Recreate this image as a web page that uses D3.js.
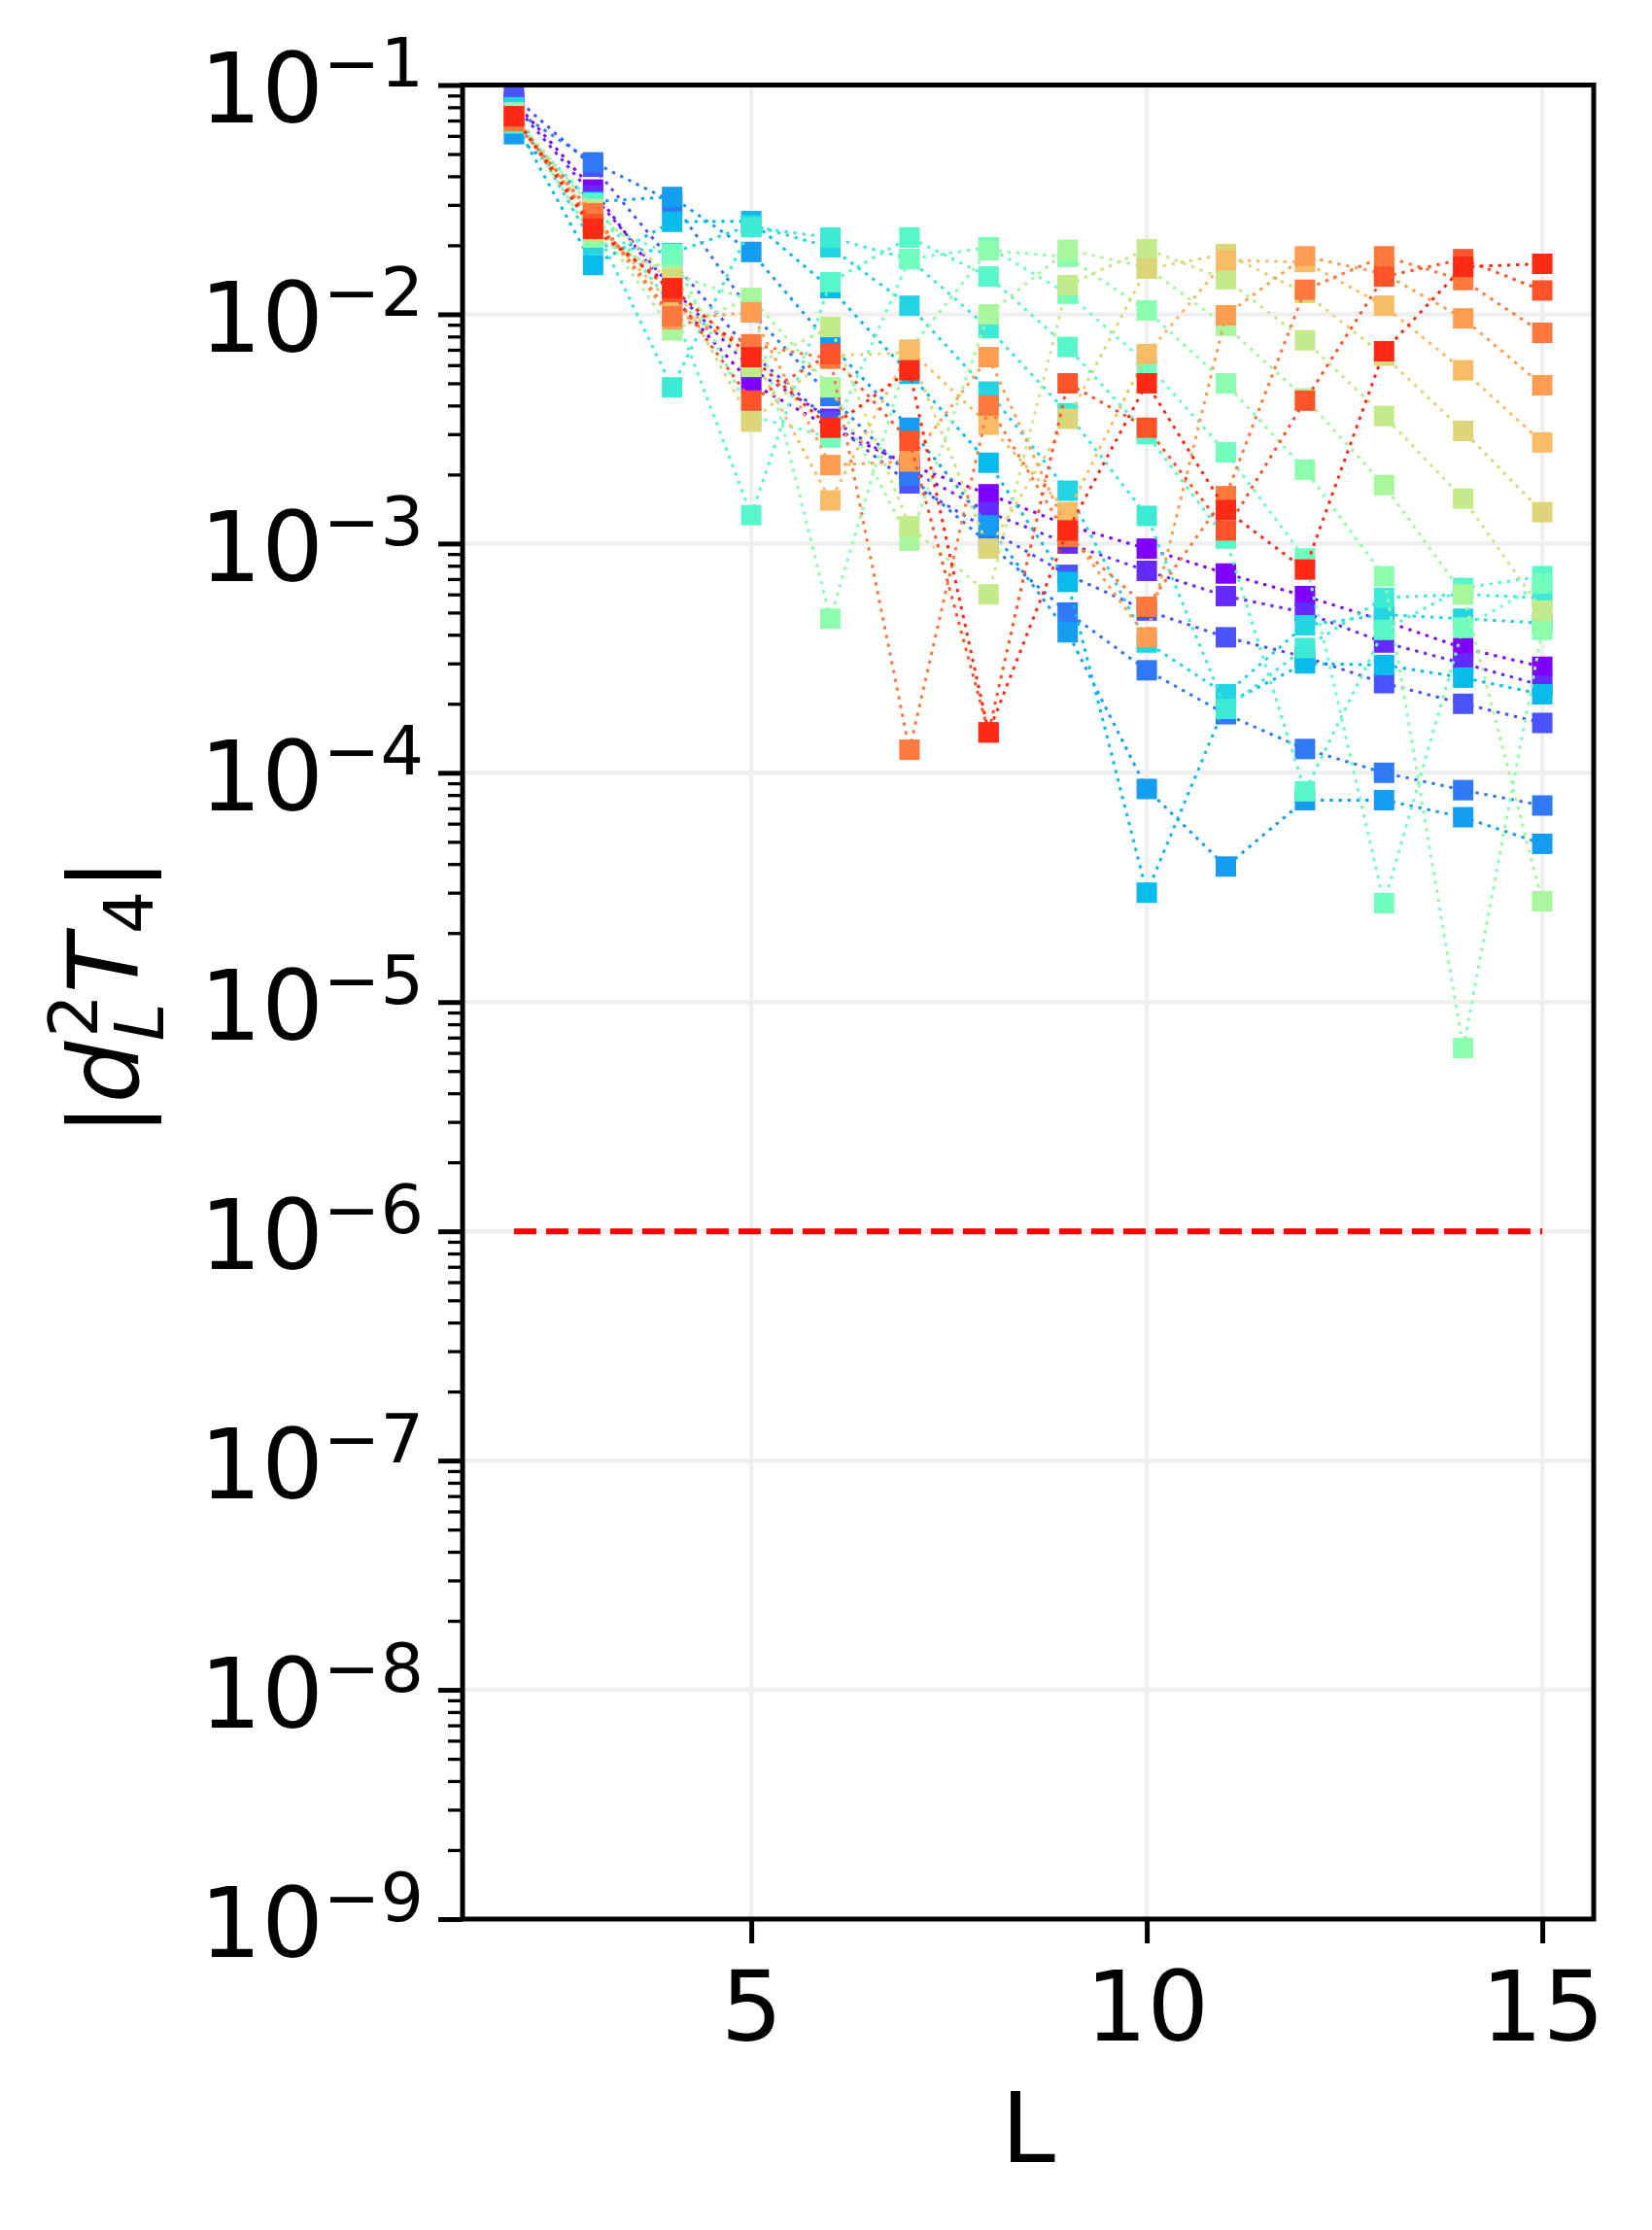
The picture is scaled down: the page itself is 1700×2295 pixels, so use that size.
<!DOCTYPE html>
<html>
<head>
<meta charset="utf-8">
<script src="https://cdn.jsdelivr.net/npm/d3@7"></script>
<style>
  body { margin: 0; background: #fff; }
  svg { display: block; }
</style>
</head>
<body>
<svg id="chart" width="1700" height="2295"></svg>
<script>
// L values on the x axis
const Ls = [2, 3, 4, 5, 6, 7, 8, 9, 10, 11, 12, 13, 14, 15];

// |d_L^2 T_4| for each curve, one row per curve (L = 2..15)
const seriesValues = [
  [0.085, 0.035, 0.012, 0.005, 0.0032, 0.0022, 0.00164, 0.0012, 0.00095, 0.00074, 0.00059, 0.00046, 0.00035, 0.00029],
  [0.082, 0.033, 0.013, 0.0058, 0.0035, 0.0021, 0.00137, 0.001, 0.00076, 0.00059, 0.0005, 0.00037, 0.0003, 0.00024],
  [0.089, 0.044, 0.017, 0.0068, 0.0034, 0.00183, 0.00115, 0.00073, 0.00051, 0.00039, 0.00032, 0.000246, 0.0002, 0.000165],
  [0.078, 0.046, 0.031, 0.0102, 0.0044, 0.00197, 0.001, 0.0005, 0.00028, 0.00018, 0.000127, 0.0001, 0.000084, 0.000072],
  [0.061, 0.031, 0.0325, 0.0187, 0.0074, 0.0032, 0.0012, 0.00041, 0.000085, 0.000039, 0.000076, 0.000076, 0.000064, 0.000049],
  [0.070, 0.0164, 0.0253, 0.0255, 0.013, 0.0055, 0.00225, 0.00068, 0.00003, 0.0002, 0.0003, 0.000295, 0.00026, 0.00022],
  [0.080, 0.0202, 0.0185, 0.0245, 0.0196, 0.0109, 0.0046, 0.0017, 0.00037, 0.00022, 0.00044, 0.00049, 0.00047, 0.00045],
  [0.073, 0.025, 0.0048, 0.024, 0.0216, 0.0174, 0.0087, 0.0037, 0.00132, 0.00019, 0.00035, 0.00058, 0.0006, 0.00058],
  [0.068, 0.0306, 0.0109, 0.00133, 0.0138, 0.0216, 0.0146, 0.0072, 0.003, 0.00105, 0.000083, 0.00042, 0.00064, 0.00072],
  [0.073, 0.025, 0.0183, 0.0036, 0.0029, 0.0174, 0.0196, 0.0123, 0.0061, 0.0025, 0.00086, 0.000027, 0.00043, 0.00067],
  [0.076, 0.0216, 0.015, 0.0115, 0.00047, 0.007, 0.019, 0.0178, 0.0104, 0.005, 0.0021, 0.00072, 0.0000063, 0.00042],
  [0.073, 0.026, 0.0085, 0.0118, 0.0048, 0.00103, 0.01, 0.0191, 0.016, 0.0089, 0.0043, 0.0018, 0.0006, 0.0000275],
  [0.073, 0.0287, 0.0145, 0.0059, 0.0088, 0.00119, 0.0006, 0.0134, 0.0192, 0.0142, 0.0077, 0.0036, 0.00157, 0.00051],
  [0.073, 0.023, 0.0142, 0.0034, 0.0066, 0.0068, 0.00095, 0.0035, 0.0158, 0.0183, 0.0124, 0.0066, 0.0031, 0.00137],
  [0.073, 0.026, 0.011, 0.0068, 0.00154, 0.007, 0.0033, 0.00137, 0.0067, 0.0172, 0.0169, 0.0109, 0.0057, 0.00276],
  [0.0695, 0.027, 0.0095, 0.0102, 0.0022, 0.00228, 0.0065, 0.00114, 0.00039, 0.0099, 0.0179, 0.015, 0.0096, 0.0049],
  [0.0695, 0.0276, 0.0098, 0.0074, 0.0064, 0.000126, 0.004, 0.00107, 0.00053, 0.00161, 0.0128, 0.0179, 0.0141, 0.0083],
  [0.073, 0.0248, 0.0125, 0.0042, 0.0067, 0.0028, 0.00015, 0.005, 0.0032, 0.00114, 0.0042, 0.0146, 0.0174, 0.0127],
  [0.073, 0.0236, 0.013, 0.0065, 0.0032, 0.0057, 0.00015, 0.00114, 0.005, 0.0014, 0.00077, 0.0069, 0.0161, 0.0166]
];

// axis ticks
const yExponents = [-1, -2, -3, -4, -5, -6, -7, -8, -9];
const xTicks = [5, 10, 15];

// horizontal reference level
const threshold = 1e-6;
const thresholdRange = [2, 15];

//Plot area in pixels
const plot = { left: 476, right: 1640, top: 87.5, bottom: 1975 };
const font = "DejaVu Sans";

const svg = d3.select("#chart");
svg.append("rect").attr("width", 1700).attr("height", 2295).attr("fill", "#fff");

const x = d3.scaleLinear().domain([1.35, 15.65]).range([plot.left, plot.right]);
const y = d3.scaleLog().domain([1e-1, 1e-9]).range([plot.top, plot.bottom]);

//matplotlib "rainbow" colormap
function rainbow(t) {
    const r = Math.min(1, Math.abs(2 * t - 0.5));
    const g = Math.sin(Math.PI * t);
    const b = Math.cos(Math.PI * t / 2);
    return d3.rgb(r * 255, g * 255, b * 255).formatHex();
}

const yMajors = yExponents.map(e => Math.pow(10, e));
const yMinors = [];
yExponents.slice(1).forEach(e => {
    for (let k = 2; k <= 9; k++) yMinors.push(k * Math.pow(10, e));
});

//Grid lines
const grid = svg.append("g").attr("stroke", "#efefef").attr("stroke-width", 4.5);
grid.selectAll(".gx")
    .data(xTicks)
    .enter()
    .append("line")
    .attr("x1", d => x(d)).attr("x2", d => x(d))
    .attr("y1", plot.top).attr("y2", plot.bottom);
grid.selectAll(".gy")
    .data(yMajors)
    .enter()
    .append("line")
    .attr("x1", plot.left).attr("x2", plot.right)
    .attr("y1", d => y(d)).attr("y2", d => y(d));

//Clip to the axes box like matplotlib does
svg.append("clipPath").attr("id", "plotClip")
    .append("rect")
    .attr("x", plot.left).attr("y", plot.top)
    .attr("width", plot.right - plot.left).attr("height", plot.bottom - plot.top);

const dataLayer = svg.append("g").attr("clip-path", "url(#plotClip)");

const line = d3.line()
    .x((d, i) => x(Ls[i]))
    .y(d => y(d));

const markerSize = 21;
seriesValues.forEach((values, i) => {
    const color = rainbow(i / seriesValues.length);
    const g = dataLayer.append("g").attr("class", "series");
    g.append("path")
        .datum(values)
        .attr("d", line)
        .attr("fill", "none")
        .attr("stroke", color)
        .attr("stroke-width", 3)
        .attr("stroke-dasharray", "3.4 5.8");
    g.selectAll("rect")
        .data(values)
        .enter()
        .append("rect")
        .attr("x", (d, j) => x(Ls[j]) - markerSize / 2)
        .attr("y", d => y(d) - markerSize / 2)
        .attr("width", markerSize)
        .attr("height", markerSize)
        .attr("fill", color);
});

//Red dashed reference line
dataLayer.append("line")
    .attr("x1", x(thresholdRange[0])).attr("x2", x(thresholdRange[1]))
    .attr("y1", y(threshold)).attr("y2", y(threshold))
    .attr("stroke", "#ff0000")
    .attr("stroke-width", 6)
    .attr("stroke-dasharray", "23 10");

//Y axis: major ticks with 10^n labels
const gy = svg.append("g")
    .attr("transform", `translate(${plot.left},0)`)
    .call(d3.axisLeft(y).tickValues(yMajors).tickSize(25).tickPadding(15).tickFormat(() => ""));
gy.select(".domain").remove();
gy.selectAll(".tick line").attr("stroke", "#000").attr("stroke-width", 5);
gy.selectAll(".tick text")
    .attr("dy", null)
    .attr("y", 38)
    .attr("font-family", font)
    .attr("font-size", 100)
    .attr("fill", "#000")
    .each(function (d) {
        const t = d3.select(this);
        t.append("tspan").text("10");
        t.append("tspan")
            .attr("font-size", 70)
            .attr("dy", -37)
            .text("\u2212" + Math.round(-Math.log10(d)));
    });

//Y axis minor ticks
const gyMinor = svg.append("g")
    .attr("transform", `translate(${plot.left},0)`)
    .call(d3.axisLeft(y).tickValues(yMinors).tickSize(15).tickFormat(() => ""));
gyMinor.select(".domain").remove();
gyMinor.selectAll(".tick line").attr("stroke", "#000").attr("stroke-width", 3.3);

//X axis
const gx = svg.append("g")
    .attr("transform", `translate(0,${plot.bottom})`)
    .call(d3.axisBottom(x).tickValues(xTicks).tickSize(25).tickFormat(d3.format("d")));
gx.select(".domain").remove();
gx.selectAll(".tick line").attr("stroke", "#000").attr("stroke-width", 5);
gx.selectAll(".tick text")
    .attr("dy", null)
    .attr("y", 125)
    .attr("font-family", font)
    .attr("font-size", 100)
    .attr("fill", "#000");

//Axes frame
svg.append("rect")
    .attr("x", plot.left).attr("y", plot.top)
    .attr("width", plot.right - plot.left).attr("height", plot.bottom - plot.top)
    .attr("fill", "none")
    .attr("stroke", "#000")
    .attr("stroke-width", 5);

//Axis labels
svg.append("text")
    .attr("x", (plot.left + plot.right) / 2)
    .attr("y", 2225)
    .attr("text-anchor", "middle")
    .attr("font-family", font)
    .attr("font-size", 100)
    .text("L");

const ylab = svg.append("text")
    .attr("transform", "translate(142,1026) rotate(-90)")
    .attr("text-anchor", "middle")
    .attr("font-family", font)
    .attr("font-size", 100);
ylab.append("tspan").text("|");
ylab.append("tspan").attr("font-style", "italic").text("d");
ylab.append("tspan").attr("font-size", 70).attr("dy", -42).attr("dx", 4).text("2");
ylab.append("tspan").attr("font-size", 70).attr("font-style", "italic").attr("dy", 68).attr("dx", -48).text("L");
ylab.append("tspan").attr("font-style", "italic").attr("dy", -26).attr("dx", 10).text("T");
ylab.append("tspan").attr("font-size", 70).attr("dy", 15).text("4");
ylab.append("tspan").attr("dy", -15).text("|");
</script>
</body>
</html>
